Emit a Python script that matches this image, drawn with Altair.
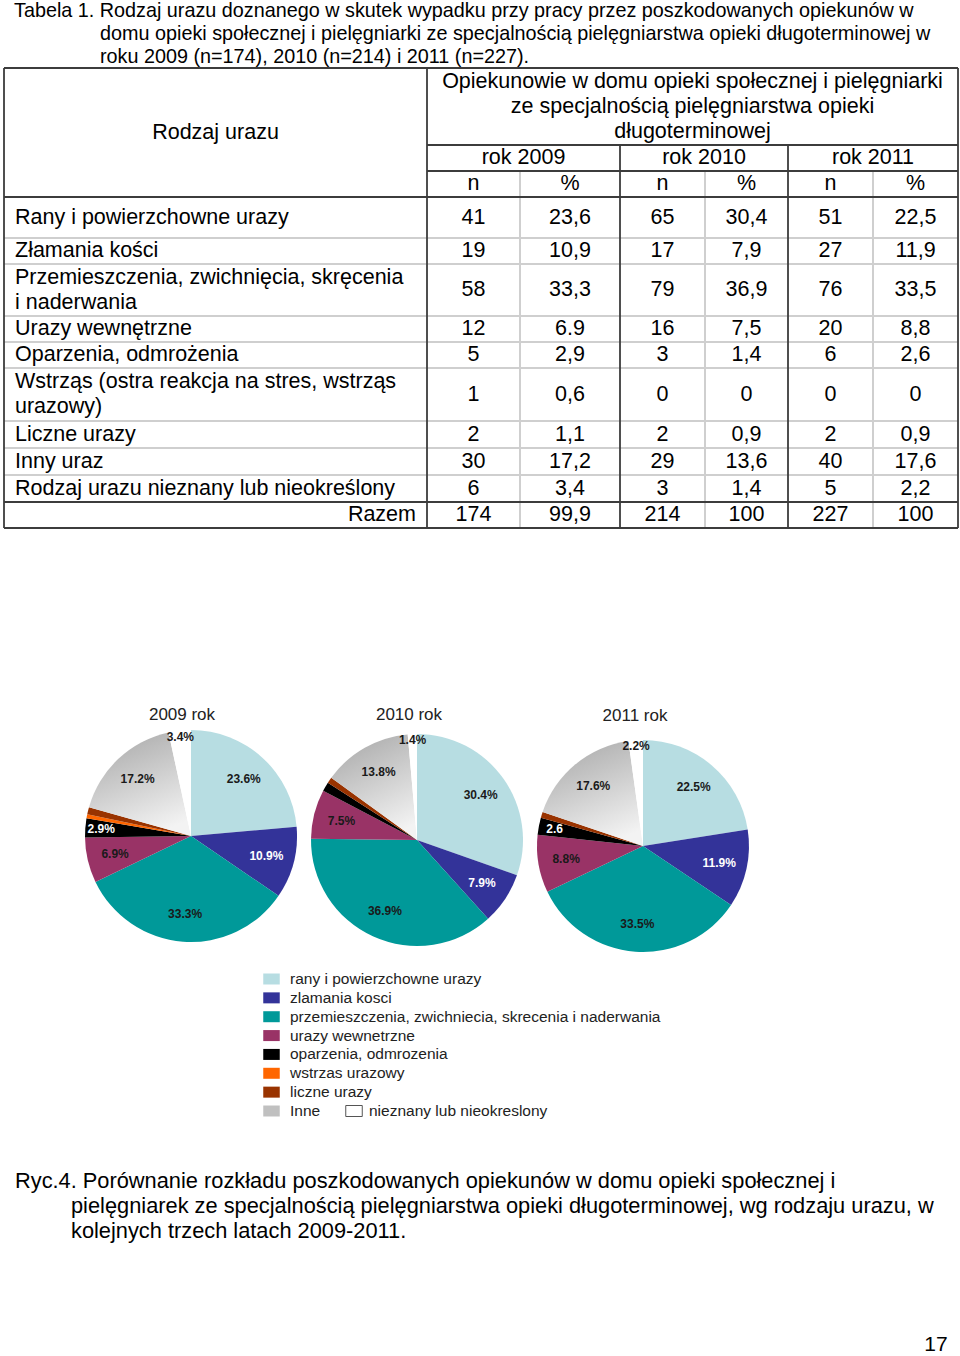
import altair as alt
import pandas as pd

# ---------------- data ----------------
title_lines = [
    "Tabela 1. Rodzaj urazu doznanego w skutek wypadku przy pracy przez poszkodowanych opiekunów w",
    "domu opieki społecznej i pielęgniarki ze specjalnością pielęgniarstwa opieki długoterminowej w",
    "roku 2009 (n=174), 2010 (n=214) i 2011 (n=227).",
]
header_first = "Rodzaj urazu"
header_group = [
    "Opiekunowie w domu opieki społecznej i pielęgniarki",
    "ze specjalnością pielęgniarstwa opieki",
    "długoterminowej",
]
year_headers = ["rok 2009", "rok 2010", "rok 2011"]
sub_headers = ["n", "%", "n", "%", "n", "%"]

row_labels = [
    "Rany i powierzchowne urazy",
    "Złamania kości",
    "Przemieszczenia, zwichnięcia, skręcenia\ni naderwania",
    "Urazy wewnętrzne",
    "Oparzenia, odmrożenia",
    "Wstrząs (ostra reakcja na stres, wstrząs\nurazowy)",
    "Liczne urazy",
    "Inny uraz",
    "Rodzaj urazu nieznany lub nieokreślony",
]
total_label = "Razem"
n_2009 = ["41", "19", "58", "12", "5", "1", "2", "30", "6", "174"]
p_2009 = ["23,6", "10,9", "33,3", "6.9", "2,9", "0,6", "1,1", "17,2", "3,4", "99,9"]
n_2010 = ["65", "17", "79", "16", "3", "0", "2", "29", "3", "214"]
p_2010 = ["30,4", "7,9", "36,9", "7,5", "1,4", "0", "0,9", "13,6", "1,4", "100"]
n_2011 = ["51", "27", "76", "20", "6", "0", "2", "40", "5", "227"]
p_2011 = ["22,5", "11,9", "33,5", "8,8", "2,6", "0", "0,9", "17,6", "2,2", "100"]

pie_titles = ["2009 rok", "2010 rok", "2011 rok"]
legend_cats = [
    "rany i powierzchowne urazy",
    "zlamania kosci",
    "przemieszczenia, zwichniecia, skrecenia i naderwania",
    "urazy wewnetrzne",
    "oparzenia, odmrozenia",
    "wstrzas urazowy",
    "liczne urazy",
    "Inne",
    "nieznany lub nieokreslony",
]
pie_2009 = [23.6, 10.9, 33.3, 6.9, 2.9, 0.6, 1.1, 17.2, 3.4]
pie_2010 = [30.4, 7.9, 36.9, 7.5, 1.4, 0.0, 0.9, 13.6, 1.4]
pie_2011 = [22.5, 11.9, 33.5, 8.8, 2.6, 0.0, 0.9, 17.6, 2.2]
lab_2009 = ["23.6%", "10.9%", "33.3%", "6.9%", "2.9%", "", "", "17.2%", "3.4%"]
lab_2010 = ["30.4%", "7.9%", "36.9%", "7.5%", "", "", "", "13.8%", "1.4%"]
lab_2011 = ["22.5%", "11.9%", "33.5%", "8.8%", "2.6", "", "", "17.6%", "2.2%"]

caption_lines = [
    "Ryc.4. Porównanie rozkładu poszkodowanych opiekunów w domu opieki społecznej i",
    "pielęgniarek ze specjalnością pielęgniarstwa opieki długoterminowej, wg rodzaju urazu, w",
    "kolejnych trzech latach 2009-2011.",
]
page_number = "17"

# ---------------- styles / layout ----------------
FONT = "Liberation Sans, Arial, sans-serif"
colors = ["#b7dde2", "#333399", "#009999", "#993366", "#000000",
          "#ff6600", "#993300", "#c0c0c0", "#ffffff"]
cscale = alt.Scale(domain=legend_cats, range=colors)
DARK = "#3c3c3c"
LIGHT = "#cfcfcf"
TFS = 21.5

L, C1, R = 4, 427, 958
col_edges = [427, 520, 620, 705, 788, 873, 958]
col_centers = [(col_edges[i] + col_edges[i + 1]) / 2 for i in range(6)]
row_edges = [197, 238, 264, 316, 342, 368, 421, 448, 475, 502, 528]
row_centers = [(row_edges[i] + row_edges[i + 1]) / 2 for i in range(10)]
yscale = alt.Scale(domain=list(range(10)), range=row_centers, nice=False, zero=False)
xscale = alt.Scale(domain=list(range(6)), range=col_centers, nice=False, zero=False)
LINE_H = 25

layers = []


def one(s):
    return alt.Chart(pd.DataFrame({"t": [s]}))


def txt(s, x, y, size, align="left", weight="normal", color="#000"):
    return one(s).mark_text(align=align, baseline="middle", fontSize=size,
                            fontWeight=weight, color=color, font=FONT).encode(
        x=alt.value(x), y=alt.value(y), text="t:N")


def hline(y, x1, x2, color, w):
    return one("").mark_rule(color=color, strokeWidth=w).encode(
        x=alt.value(x1), x2=alt.value(x2), y=alt.value(y))


def vline(x, y1, y2, color, w):
    return one("").mark_rule(color=color, strokeWidth=w).encode(
        x=alt.value(x), y=alt.value(y1), y2=alt.value(y2))


# title
title_pos = [(14, 11), (100, 34), (100, 57)]
for s, (x, y) in zip(title_lines, title_pos):
    layers.append(txt(s, x, y, 19.8))

# table grid
for y in row_edges[1:-2]:
    layers.append(hline(y, L, R, LIGHT, 2))
for x in [520, 705, 873]:
    layers.append(vline(x, 171, 528, LIGHT, 2))
for y, x1 in [(68, L), (145, C1), (171, C1), (197, L), (502, L), (528, L)]:
    layers.append(hline(y, x1, R, DARK, 1.8))
for x, y1 in [(L, 68), (C1, 68), (R, 68), (620, 145), (788, 145)]:
    layers.append(vline(x, y1, 528, DARK, 1.8))

# table header
layers.append(txt(header_first, (L + C1) / 2, 133, TFS, align="center"))
for i, s in enumerate(header_group):
    layers.append(txt(s, (C1 + R) / 2, 82 + 25 * i, TFS, align="center"))
for i, s in enumerate(year_headers):
    layers.append(txt(s, (col_edges[2 * i] + col_edges[2 * i + 2]) / 2, 158, TFS, align="center"))
for i, s in enumerate(sub_headers):
    layers.append(txt(s, col_centers[i], 184, TFS, align="center"))

# table body
cols = [n_2009, p_2009, n_2010, p_2010, n_2011, p_2011]
body = pd.DataFrame([{"r": r, "c": c, "t": cols[c][r]} for c in range(6) for r in range(10)])
layers.append(
    alt.Chart(body).mark_text(align="center", baseline="middle", fontSize=TFS, font=FONT, color="#000").encode(
        x=alt.X("c:Q", scale=xscale, axis=None),
        y=alt.Y("r:Q", scale=yscale, axis=None),
        text="t:N")
)
single = [(r, t) for r, t in enumerate(row_labels) if "\n" not in t]
multi = [(r, t) for r, t in enumerate(row_labels) if "\n" in t]
layers.append(
    alt.Chart(pd.DataFrame(single, columns=["r", "t"])).mark_text(
        align="left", baseline="middle", fontSize=TFS, font=FONT, color="#000").encode(
        x=alt.value(15), y=alt.Y("r:Q", scale=yscale, axis=None), text="t:N")
)
layers.append(
    alt.Chart(pd.DataFrame(multi, columns=["r", "t"])).mark_text(
        align="left", baseline="middle", fontSize=TFS, font=FONT, color="#000",
        lineBreak="\n", lineHeight=LINE_H, dy=-LINE_H / 2).encode(
        x=alt.value(15), y=alt.Y("r:Q", scale=yscale, axis=None), text="t:N")
)
layers.append(
    alt.Chart(pd.DataFrame({"r": [9], "t": [total_label]})).mark_text(
        align="right", baseline="middle", fontSize=TFS, font=FONT, color="#000").encode(
        x=alt.value(416), y=alt.Y("r:Q", scale=yscale, axis=None), text="t:N")
)

# pies
grad = {"gradient": "linear", "x1": 0.2, "y1": 0, "x2": 0.6, "y2": 1,
        "stops": [{"offset": 0, "color": "#a9a9a9"}, {"offset": 1, "color": "#f3f3f3"}]}
small = ["oparzenia, odmrozenia", "wstrzas urazowy", "liczne urazy", "nieznany lub nieokreslony"]
white_lab = ["zlamania kosci", "oparzenia, odmrozenia"]
small_expr = "indexof(['" + "','".join(small) + "'], datum.cat) >= 0"
white_expr = "indexof(['" + "','".join(white_lab) + "'], datum.cat) >= 0"
PIE_R = 106
pie_centers = [(191, 836), (417, 840), (643, 846)]
pie_title_pos = [(182, 715), (409, 715), (635, 716)]

for vals, labs, (cx, cy), title, (tx, ty) in zip(
        [pie_2009, pie_2010, pie_2011], [lab_2009, lab_2010, lab_2011],
        pie_centers, pie_titles, pie_title_pos):
    df = pd.DataFrame({"cat": legend_cats, "idx": list(range(9)), "pct": vals, "lab": labs})
    base = alt.Chart(df).encode(
        theta=alt.Theta("pct:Q", stack=True),
        order=alt.Order("idx:Q"),
        x=alt.value(cx), y=alt.value(cy),
    )
    arcs = base.mark_arc(radius=PIE_R).encode(
        color=alt.condition("datum.cat == 'Inne'", alt.value(grad),
                            alt.Color("cat:N", scale=cscale, legend=None))
    )
    tcolor = alt.condition(white_expr, alt.value("#ffffff"), alt.value("#1a1a1a"))
    inner = base.transform_calculate(tl=f"{small_expr} ? '' : datum.lab").mark_text(
        radius=78, fontSize=12, fontWeight="bold", font=FONT, baseline="middle").encode(
        detail="cat:N", text="tl:N", color=tcolor)
    edge_white = base.transform_calculate(
        tl=f"({small_expr}) && ({white_expr}) ? datum.lab : ''").mark_text(
        radius=90, fontSize=12, fontWeight="bold", font=FONT, baseline="middle", color="#ffffff").encode(
        detail="cat:N", text="tl:N")
    edge_dark = base.transform_calculate(
        tl=f"({small_expr}) && !({white_expr}) ? datum.lab : ''").mark_text(
        radius=100, fontSize=12, fontWeight="bold", font=FONT, baseline="middle", color="#1a1a1a").encode(
        detail="cat:N", text="tl:N")
    layers.append(alt.layer(arcs, inner, edge_white, edge_dark))
    layers.append(txt(title, tx, ty, 17, align="center", color="#222"))

# legend
leg_rows = [0, 1, 2, 3, 4, 5, 6, 7, 7]
leg_cols = [0, 0, 0, 0, 0, 0, 0, 0, 1]
leg_df = pd.DataFrame({"cat": legend_cats, "lrow": leg_rows, "lcol": leg_cols})
ly = alt.Y("lrow:Q", scale=alt.Scale(domain=[0, 7], range=[979, 1111], nice=False, zero=False), axis=None)
layers.append(
    alt.Chart(leg_df).mark_point(shape="M-1.5,-1L1.5,-1L1.5,1L-1.5,1Z", filled=True, size=121, opacity=1).encode(
        x=alt.X("lcol:Q", scale=alt.Scale(domain=[0, 1], range=[271.5, 354], nice=False, zero=False), axis=None),
        y=ly,
        color=alt.Color("cat:N", scale=cscale, legend=None),
        stroke=alt.condition("datum.cat == 'nieznany lub nieokreslony'", alt.value("#555555"), alt.value("transparent")),
        strokeWidth=alt.value(1),
    )
)
layers.append(
    alt.Chart(leg_df).mark_text(align="left", baseline="middle", fontSize=15.5, font=FONT, color="#222").encode(
        x=alt.X("lcol:Q", scale=alt.Scale(domain=[0, 1], range=[290, 369], nice=False, zero=False), axis=None),
        y=ly,
        text="cat:N",
    )
)

# caption and page number
cap_pos = [(15, 1181), (71, 1206), (71, 1231)]
for s, (x, y) in zip(caption_lines, cap_pos):
    layers.append(txt(s, x, y, 21.8))
layers.append(txt(page_number, 936, 1345, 21, align="center"))

chart = alt.layer(*layers).resolve_scale(
    x="independent", y="independent", theta="independent"
).properties(
    width=960, height=1356, padding=0, autosize=alt.AutoSizeParams(type="none"),
    background="white",
).configure_view(stroke=None)

chart.save("out.html", embed_options={"renderer": "svg", "actions": False})
